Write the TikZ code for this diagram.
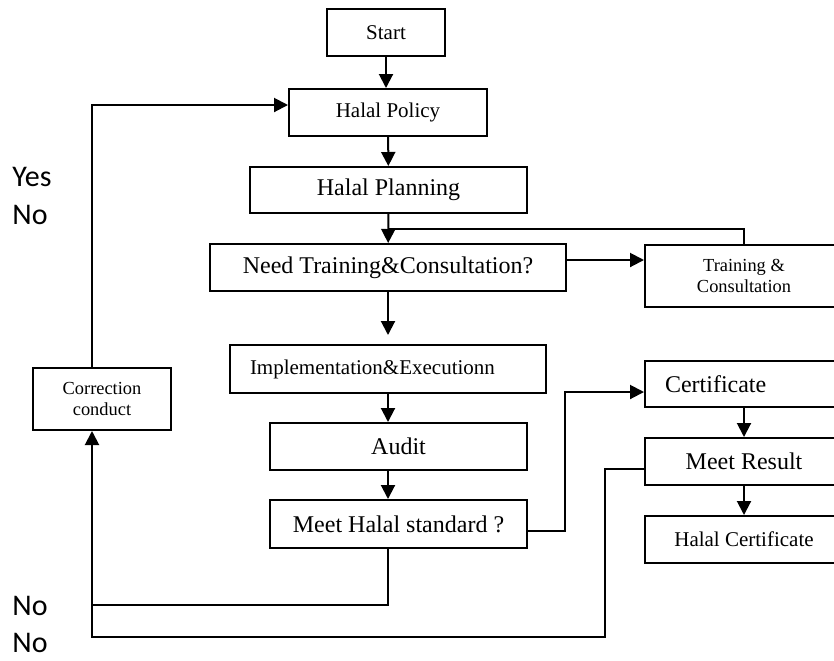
\documentclass[tikz,border=0pt]{standalone}
\usepackage{fontspec}
\setmainfont{Liberation Serif}
\newfontfamily\yesnofont{Carlito}
\usetikzlibrary{calc,arrows.meta}

\begin{document}
\begin{tikzpicture}[x=0.5pt, y=-0.5pt,
		box/.style={draw, line width=1pt, inner sep=0pt, align=center},
		padded/.style={box, align=left, inner xsep=10pt},
		fbig/.style={font=\fontsize{12}{14}\selectfont},
		fmid/.style={font=\fontsize{10.5}{12.5}\selectfont},
		fsmall/.style={font=\fontsize{9.2}{10.5}\selectfont},
		flow/.style={line width=1pt, -{Triangle[width=7pt,length=7pt]}},
		link/.style={line width=1pt},
		lbl/.style={anchor=west, inner sep=0pt, font=\yesnofont\fontsize{15}{18}\selectfont}]
		\useasboundingbox (0,0) rectangle (834,660);

		% main column
		\node[box, fmid, minimum width=59pt, minimum height=23.5pt] (start) at (386, 32.5) {Start};
		\node[box, fmid, minimum width=99pt, minimum height=23.5pt] (policy) at (388, 112.5) {Halal Policy};
		\node[box, fbig, minimum width=138.5pt, minimum height=23pt] (planning) at (388.5, 190) {Halal Planning};
		\node[box, fbig, minimum width=178pt, minimum height=23.5pt] (need) at (388, 267.5) {Need Training\&Consultation?};
		\node[padded, fmid, text width=138pt, minimum height=24pt] (impl) at (388, 369) {Implementation\&Executionn};
		\node[box, fbig, minimum width=128.5pt, minimum height=23.5pt] (audit) at (398.5, 446.5) {Audit};
		\node[box, fbig, minimum width=128.5pt, minimum height=24pt] (meet) at (398.5, 524) {Meet Halal standard ?};

		% right column
		\node[box, fsmall, minimum width=99pt, minimum height=31pt] (train) at (744, 276) {Training \&\\Consultation};
		\node[padded, fbig, text width=79pt, minimum height=23pt] (cert) at (744, 384) {Certificate};
		\node[box, fbig, minimum width=99pt, minimum height=23.5pt] (result) at (744, 461.5) {Meet Result};
		\node[box, fmid, minimum width=99pt, minimum height=23.5pt] (halalcert) at (744, 539.5) {Halal Certificate};

		% left column
		\node[box, fsmall, minimum width=69pt, minimum height=31pt] (corr) at (102, 399) {Correction\\conduct};

		\node[lbl] (yes1) at (12, 177) {Yes};
		\node[lbl] (no1) at (12, 215) {No};
		\node[lbl] (no2) at (12, 606) {No};
		\node[lbl] (no3) at (12, 643) {No};

		\coordinate (merge) at (388, 229);
		\coordinate (jogC) at (565, 392);
		\coordinate (jogR) at (605, 637);
		\coordinate (lowA) at (92, 605);
		\coordinate (lowB) at (92, 637);

		\draw[flow] (start.south) -- (start.south |- policy.north);
		\draw[flow] (policy) -- (planning);
		\draw[flow] (planning) -- (need);
		\draw[link] (train.north) |- (merge);
		\draw[flow] ([yshift=3.75pt]need.east) -- ([yshift=3.75pt]need.east -| train.west);
		\draw[flow, shorten >=4.5pt] (need) -- (impl);
		\draw[flow] (impl.south) -- (impl.south |- audit.north);
		\draw[flow] (impl.south |- audit.south) -- (impl.south |- meet.north);
		\draw[flow] ([yshift=-3.5pt]meet.east) -| (jogC) -- (jogC -| cert.west);
		\draw[flow] (cert) -- (result);
		\draw[flow] (result) -- (halalcert);
		\draw[link] (impl.south |- meet.south) |- (lowA);
		\draw[flow] ([yshift=-3.75pt]result.west) -| (jogR) -- (lowB) -- ([xshift=-5pt]corr.south);
		\draw[flow] ([xshift=-5pt]corr.north) |- ([yshift=3.75pt]policy.west);
	\end{tikzpicture}
\end{document}
